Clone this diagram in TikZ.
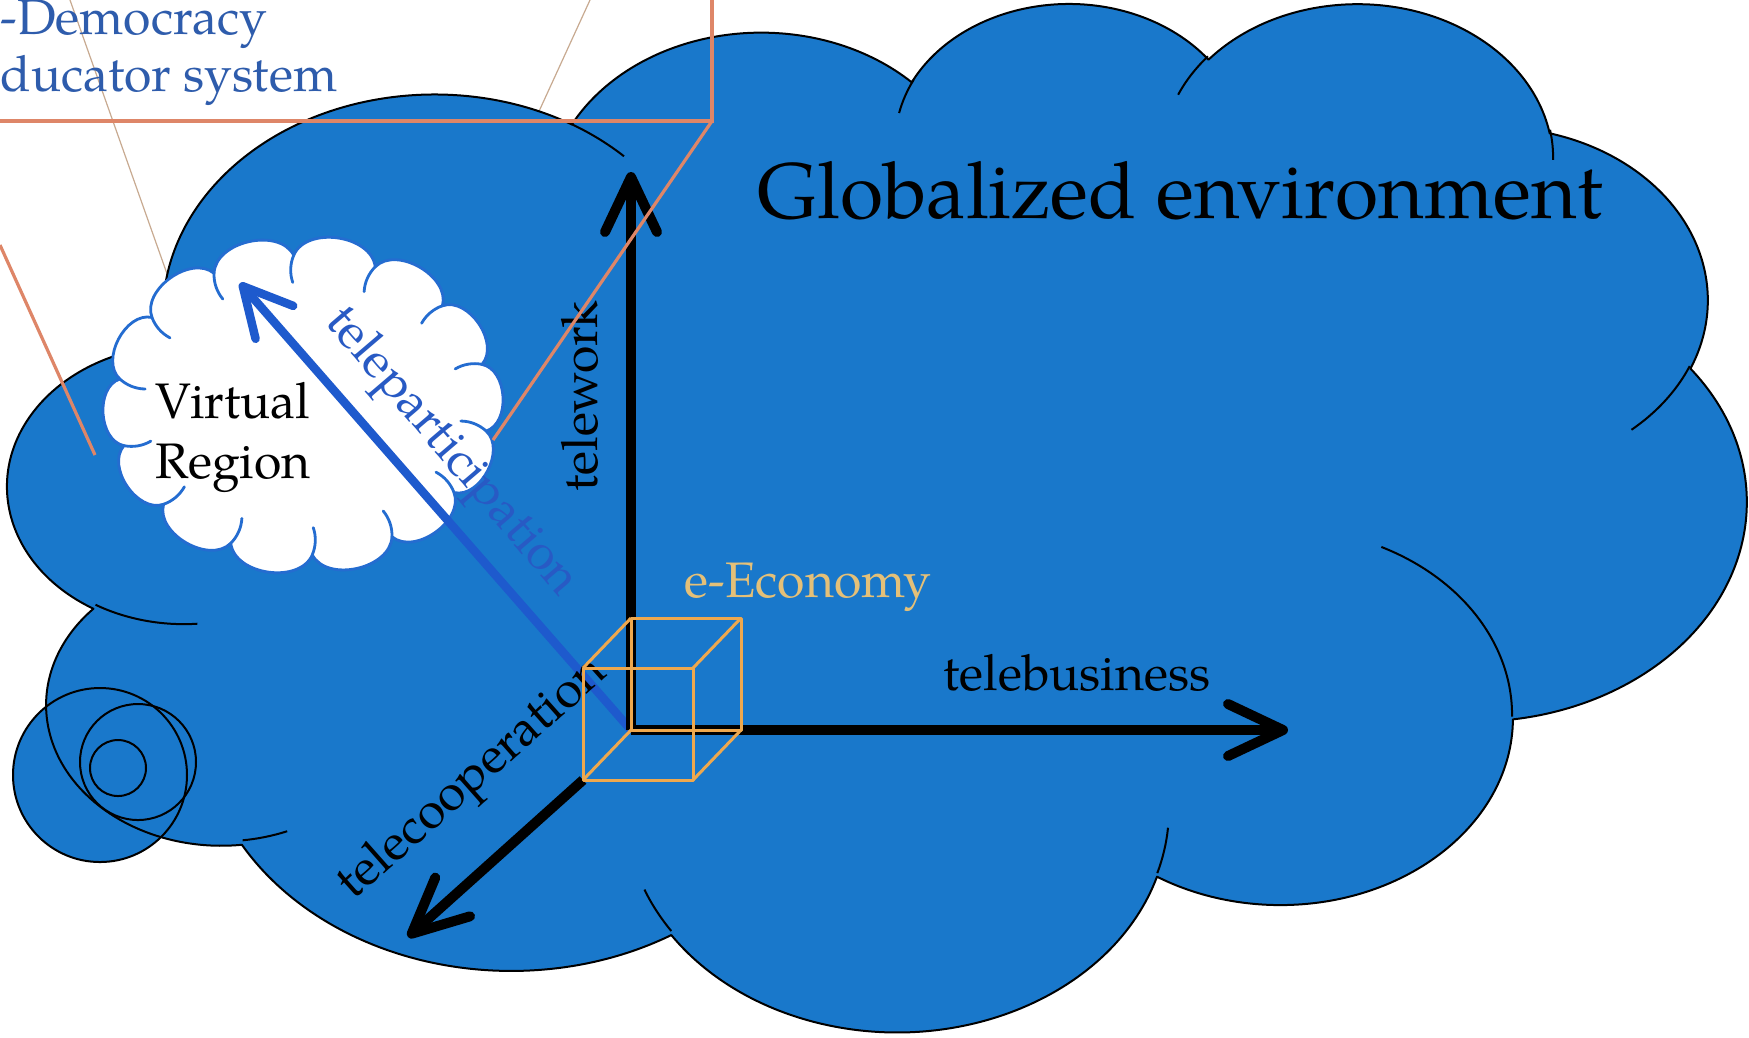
\documentclass[tikz,border=0pt]{standalone}
\usepackage{fontspec}
\setmainfont{TeX Gyre Pagella}
\usetikzlibrary{arrows.meta}
\definecolor{cloudblue}{RGB}{25,120,203}
\definecolor{arrowblue}{RGB}{30,90,205}
\definecolor{partblue}{RGB}{40,90,196}
\definecolor{demblue}{RGB}{46,92,172}
\definecolor{calloutorange}{RGB}{222,134,104}
\definecolor{thintan}{RGB}{200,170,145}
\definecolor{cubeorange}{RGB}{238,168,78}
\definecolor{econtext}{RGB}{228,192,120}
\definecolor{vrblue}{RGB}{36,108,208}
\tikzset{
  lbl/.style={font=\fontsize{14.2pt}{17pt}\selectfont, inner sep=0pt},
  cloudline/.style={draw=black, line width=0.2mm},
  bigcloud/.style={fill=cloudblue, cloudline, line join=round},
  vcloud/.style={fill=white, draw=vrblue, line width=0.28mm, line join=round},
  vhook/.style={draw=vrblue, line width=0.28mm, line cap=round},
  axisarrow/.style={draw=black, line width=1mm, -{Straight Barb[length=5.5mm,width=5.2mm,round]}},
  partarrow/.style={draw=arrowblue, line width=0.85mm, -{Straight Barb[length=4.8mm,width=5mm,round]}},
  cubeline/.style={draw=cubeorange, line width=0.3mm, line join=round},
  callout/.style={draw=calloutorange, line width=0.32mm},
  thinline/.style={draw=thintan, line width=0.12mm},
}
\begin{document}
\begin{tikzpicture}[x=0.1mm,y=-0.1mm]
\useasboundingbox (0,0) rectangle (1749,1037);
\fill[white] (0,0) rectangle (1749,1037);

% thin projection lines (behind the clouds)
\coordinate (th1a) at (70,0);  \coordinate (th1b) at (171,285);
\coordinate (th2a) at (590,0); \coordinate (th2b) at (480,240);
\draw[thinline] (th1a) -- (th1b);
\draw[thinline] (th2a) -- (th2b);

% small bubble behind the cloud
\coordinate (cA) at (100,775);
\coordinate (cB) at (138,762);
\coordinate (cC) at (118,768);
\fill[cloudblue] (cA) circle[radius=8.7mm];

% big cloud (Office cloud outline)
\coordinate (gc0) at (165.5,342.6);
\path[bigcloud] (gc0)
 arc[start angle=187.74, delta angle=-128.10, x radius=27.16mm, y radius=21.87mm]
 arc[start angle=152.02, delta angle=-106.56, x radius=21.45mm, y radius=17.30mm]
 arc[start angle=153.49, delta angle=-116.16, x radius=17.56mm, y radius=14.15mm]
 arc[start angle=139.72, delta angle=-129.50, x radius=19.53mm, y radius=15.70mm]
 arc[start angle=74.77,  delta angle=-97.99,  x radius=21.45mm, y radius=17.31mm]
 arc[start angle=37.52,  delta angle=-119.38, x radius=27.25mm, y radius=21.94mm]
 arc[start angle=-0.46,  delta angle=-121.52, x radius=23.27mm, y radius=18.72mm]
 arc[start angle=-16.84, delta angle=-129.38, x radius=27.16mm, y radius=21.93mm]
 arc[start angle=-58.98, delta angle=-91.21,  x radius=31.05mm, y radius=25.09mm]
 arc[start angle=-83.31, delta angle=-139.80, x radius=17.54mm, y radius=14.08mm]
 arc[start angle=-120.35,delta angle=-143.76, x radius=17.48mm, y radius=14.15mm]
 -- cycle;

% inner arcs of the cloud
\draw[cloudline] (197.4,623.7) arc[start angle=-85.55, delta angle=-34.81, x radius=17.48mm, y radius=14.15mm];
\draw[cloudline] (287.2,831.2) arc[start angle=-68.23, delta angle=-15.08, x radius=17.54mm, y radius=14.08mm];
\draw[cloudline] (671.3,931.0) arc[start angle=-146.23, delta angle=-12.24, x radius=27.16mm, y radius=21.93mm];
\draw[cloudline] (1168.0,827.7) arc[start angle=-4.74, delta angle=-12.10, x radius=27.16mm, y radius=21.93mm];
\draw[cloudline] (1381.3,546.9) arc[start angle=64.02, delta angle=-64.48, x radius=23.27mm, y radius=18.72mm];
\draw[cloudline] (1689.7,366.1) arc[start angle=-23.22, delta angle=-26.43, x radius=21.45mm, y radius=17.31mm];
\draw[cloudline] (1550.0,129.8) arc[start angle=10.21, delta angle=-11.03, x radius=19.53mm, y radius=15.70mm];
\draw[cloudline] (1178.1,94.7) arc[start angle=156.30, delta angle=-16.59, x radius=19.53mm, y radius=15.70mm];
\draw[cloudline] (899.1,113.0) arc[start angle=167.72, delta angle=-14.23, x radius=17.56mm, y radius=14.15mm];
\draw[cloudline] (571.7,124.2) arc[start angle=59.64, delta angle=-13.90, x radius=27.16mm, y radius=21.87mm];
\draw[cloudline] (174.6,376.4) arc[start angle=-163.19, delta angle=-9.06, x radius=27.16mm, y radius=21.87mm];

% bubble outlines
\draw[cloudline] (cA) circle[radius=8.7mm];
\draw[cloudline] (cB) circle[radius=5.8mm];
\draw[cloudline] (cC) circle[radius=2.8mm];

% virtual region cloud
\def\wcx{303}\def\wcy{405}\def\wrx{186}\def\wry{150}\def\wn{14}
\draw[vcloud] ({\wcx+\wrx*cos(10)},{\wcy+\wry*sin(10)})
  foreach \k in {1,...,14}{ to[bend left=75] ({\wcx+\wrx*cos(10+\k*360/\wn)},{\wcy+\wry*sin(10+\k*360/\wn)}) } -- cycle;
\foreach \k in {0,...,13}{
  \pgfmathsetmacro\wa{10+\k*360/\wn}
  \pgfmathsetmacro\wb{10+(\k+1)*360/\wn}
  \pgfmathsetmacro\wphi{atan2(-\wry*(sin(\wb)-sin(\wa)), \wrx*(cos(\wb)-cos(\wa)))}
  \draw[vhook] ({\wcx+\wrx*cos(\wa)},{\wcy+\wry*sin(\wa)}) arc[start angle=\wphi+165, delta angle=42, radius=3.8mm];
}

% labels
\node[lbl, anchor=base west] (vr1) at (155,418) {Virtual};
\node[lbl, anchor=base west] (vr2) at (155,478) {Region};
\node[font=\fontsize{22.4pt}{27pt}\selectfont, inner sep=0pt, anchor=base] (glob) at (1180,218) {Globalized environment};

% axes
\coordinate (O) at (631,730);
\coordinate (twk) at (631,172);
\coordinate (tbz) at (1288,730);
\coordinate (tcs) at (583,780);
\coordinate (tce) at (408,937);
\coordinate (tpe) at (240,283);

\draw[partarrow] (O) -- (tpe);
\node[lbl, text=partblue, rotate=-49.5, anchor=base] (tpart) at (442,460) {teleparticipation};

\draw[axisarrow] (O) -- (twk);
\draw[axisarrow] (O) -- (tbz);
\draw[axisarrow] (tcs) -- (tce);

\node[lbl, anchor=base] (tbus) at (1077,690) {telebusiness};
\node[lbl, rotate=90, anchor=base] (twork) at (597,396) {telework};
\node[lbl, rotate=41.5, anchor=base] (tcoop) at (481,788) {telecooperation};

% cube
\coordinate (bTL) at (631,618); \coordinate (bTR) at (741,618); \coordinate (bBR) at (741,730);
\coordinate (fTL) at (583,668); \coordinate (fTR) at (693,668); \coordinate (fBR) at (693,780);
\draw[cubeline] (bTL) -- (bTR) -- (bBR) -- (O) -- cycle;
\draw[cubeline] (fTL) -- (fTR) -- (fBR) -- (tcs) -- cycle;
\draw[cubeline] (bTL) -- (fTL) (bTR) -- (fTR) (bBR) -- (fBR) (O) -- (tcs);
\node[lbl, text=econtext, anchor=base west] (econ) at (684,597) {e-Economy};

% callout box and projection lines
\coordinate (boxL) at (0,121); \coordinate (boxR) at (712,121); \coordinate (boxT) at (712,0);
\coordinate (vrR) at (493,440); \coordinate (lE) at (0,245); \coordinate (vrL) at (95,455);
\draw[callout] (boxL) -- (boxR) -- (boxT);
\draw[callout] (boxR) -- (vrR);
\draw[callout] (lE) -- (vrL);

\node[lbl, text=demblue, anchor=base west] (demo) at (0,34) {-Democracy};
\node[lbl, text=demblue, anchor=base west] (educ) at (0,91) {ducator system};
\end{tikzpicture}
\end{document}
